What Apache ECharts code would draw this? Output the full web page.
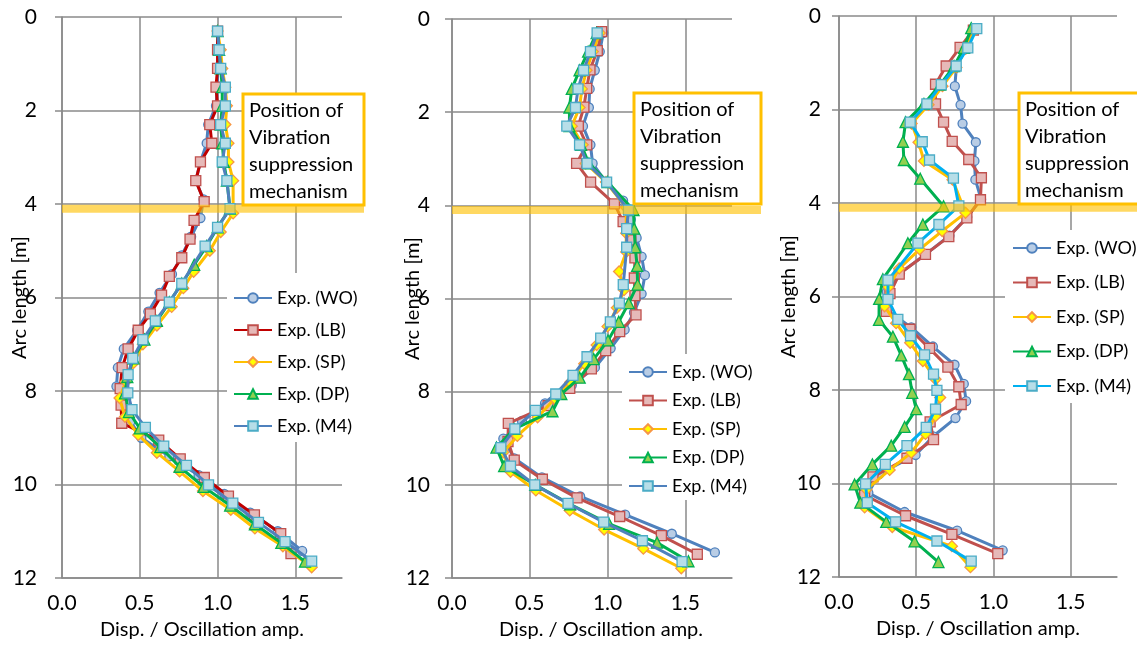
<!DOCTYPE html>
<html>
<head>
<meta charset="utf-8">
<script src="https://cdn.jsdelivr.net/npm/echarts@6/dist/echarts.min.js"></script>
<style>
html,body{margin:0;padding:0;background:#fff;}
#c{width:1137px;height:648px;}
</style>
</head>
<body>
<div id="c"></div>
<script>
// ---------- data ----------
const seriesNames = ['Exp. (WO)','Exp. (LB)','Exp. (SP)','Exp. (DP)','Exp. (M4)'];
const xTicks = [0, 0.5, 1.0, 1.5];
const yTicks = [0, 2, 4, 6, 8, 10, 12];
const BAND_ARC = 4.1;
const noteText = 'Position of\nVibration\nsuppression\nmechanism';

// Panel 1
const p1WO_y = [0.3,0.7,1.1,1.5,1.9,2.3,2.7,3.1,3.5,3.9,4.3,4.7,5.1,5.5,5.9,6.3,6.7,7.1,7.5,7.9,8.25,8.65,9.0,9.4,9.8,10.2,10.6,11.0,11.42];
const p1WO_x = [1.0,1.0,1.0,1.0,0.99,0.94,0.93,0.89,0.86,0.91,0.89,0.83,0.77,0.707,0.627,0.555,0.483,0.397,0.359,0.35,0.39,0.44,0.51,0.69,0.878,1.043,1.21,1.387,1.544];
const p1LB_y = [0.3,0.7,1.1,1.5,1.9,2.3,2.7,3.1,3.5,3.95,4.35,4.75,5.15,5.55,5.95,6.35,6.7,7.1,7.5,7.95,8.3,8.69,9.05,9.45,9.85,10.25,10.65,11.05,11.48];
const p1LB_x = [1.0,1.0,1.0,0.99,1.0,0.95,0.963,0.89,0.86,0.914,0.849,0.823,0.77,0.69,0.64,0.568,0.49,0.425,0.387,0.374,0.38,0.384,0.622,0.76,0.915,1.07,1.237,1.406,1.472];
const p1SP_y = [0.3,0.7,1.1,1.5,1.9,2.3,2.7,3.1,3.5,4.2,4.6,5.0,5.45,5.8,6.2,6.6,7.0,7.4,7.8,8.15,8.55,8.94,9.32,9.72,10.14,10.54,10.94,11.32,11.77];
const p1SP_x = [1.0,1.02,1.03,1.05,1.06,1.05,1.07,1.07,1.10,1.10,1.02,0.95,0.846,0.78,0.705,0.61,0.52,0.46,0.41,0.37,0.405,0.49,0.61,0.756,0.906,1.085,1.24,1.42,1.605];
const p1DP_y = [0.3,0.7,1.1,1.5,1.9,2.3,2.7,3.1,3.5,4.1,4.5,4.9,5.3,5.7,6.1,6.5,6.9,7.3,7.7,8.05,8.45,8.8,9.2,9.62,10.05,10.45,10.85,11.25,11.65];
const p1DP_x = [1.0,1.01,1.02,1.03,1.03,1.02,1.03,1.04,1.06,1.08,1.0,0.93,0.85,0.77,0.69,0.61,0.53,0.46,0.42,0.405,0.43,0.50,0.632,0.756,0.91,1.081,1.24,1.41,1.562];
const p1M4_y = [0.3,0.7,1.1,1.5,1.9,2.3,2.7,3.1,3.5,4.1,4.5,4.9,5.7,6.1,6.5,6.9,7.3,7.65,8.04,8.4,8.78,9.18,9.59,10.01,10.4,10.81,11.22,11.64];
const p1M4_x = [1.0,1.01,1.02,1.05,1.05,1.02,1.05,1.03,1.06,1.08,1.0,0.92,0.77,0.69,0.60,0.52,0.455,0.425,0.423,0.45,0.536,0.654,0.80,0.942,1.098,1.263,1.434,1.605];

// Panel 2
const p2WO_y = [0.3,0.7,1.1,1.5,1.9,2.3,2.7,3.1,3.5,3.9,4.3,4.7,5.1,5.5,5.9,6.3,6.67,7.07,7.48,7.86,8.25,8.63,9.01,9.43,9.84,10.25,10.64,11.05,11.45];
const p2WO_x = [0.972,0.95,0.918,0.885,0.88,0.842,0.89,0.904,0.99,1.10,1.15,1.187,1.219,1.24,1.219,1.17,1.11,1.02,0.919,0.77,0.598,0.45,0.33,0.40,0.578,0.824,1.113,1.413,1.69];
const p2LB_y = [0.27,0.68,1.09,1.49,1.89,2.3,2.7,3.1,3.5,3.97,4.35,4.74,5.13,5.56,5.94,6.35,6.71,7.12,7.51,7.93,8.3,8.68,9.07,9.47,9.88,10.28,10.68,11.09,11.49];
const p2LB_x = [0.962,0.934,0.887,0.866,0.848,0.812,0.866,0.801,0.891,1.044,1.10,1.15,1.176,1.172,1.176,1.183,1.078,0.988,0.896,0.757,0.618,0.362,0.36,0.40,0.581,0.804,1.078,1.346,1.577];
const p2SP_y = [0.3,0.7,1.1,1.5,1.9,2.3,2.7,3.1,3.5,4.05,4.6,5.0,5.42,5.82,6.2,6.6,7.0,7.4,7.8,8.15,8.55,8.95,9.3,9.72,10.12,10.55,10.96,11.37,11.79];
const p2SP_x = [0.95,0.905,0.865,0.835,0.82,0.77,0.84,0.86,0.99,1.12,1.12,1.12,1.074,1.106,1.06,1.0,0.93,0.85,0.76,0.66,0.55,0.42,0.33,0.376,0.539,0.757,0.978,1.23,1.474];
const p2DP_y = [0.3,0.7,1.1,1.5,1.9,2.3,2.7,3.1,3.5,4.1,4.5,4.9,5.3,5.7,6.1,6.5,6.9,7.3,7.7,8.05,8.42,8.8,9.2,9.6,10.0,10.42,10.84,11.24,11.64];
const p2DP_x = [0.93,0.875,0.82,0.77,0.755,0.755,0.83,0.88,1.0,1.167,1.171,1.178,1.19,1.193,1.136,1.072,1.003,0.911,0.821,0.703,0.646,0.40,0.286,0.335,0.535,0.76,1.01,1.318,1.52];
const p2M4_y = [0.3,0.7,1.1,1.5,1.9,2.3,2.7,3.1,3.5,4.1,4.5,4.9,5.7,6.1,6.5,6.85,7.25,7.65,8.05,8.4,8.8,9.2,9.6,10.0,10.4,10.8,11.2,11.65];
const p2M4_x = [0.933,0.89,0.846,0.81,0.794,0.738,0.82,0.868,0.994,1.134,1.123,1.123,1.101,1.076,1.018,0.956,0.868,0.778,0.667,0.536,0.404,0.314,0.376,0.532,0.746,0.975,1.224,1.479];

// Panel 3
const p3WO_y = [0.3,0.7,1.1,1.5,1.9,2.3,2.7,3.1,3.5,3.92,4.3,4.7,5.1,5.5,5.9,6.28,6.66,7.07,7.46,7.87,8.24,8.6,8.99,9.39,9.8,10.2,10.61,11.01,11.43];
const p3WO_x = [0.88,0.82,0.76,0.75,0.787,0.80,0.886,0.877,0.883,0.92,0.83,0.715,0.56,0.395,0.31,0.306,0.468,0.608,0.748,0.808,0.823,0.754,0.61,0.496,0.26,0.19,0.425,0.765,1.06];
const p3LB_y = [0.3,0.67,1.07,1.46,1.88,2.27,2.68,3.07,3.46,3.93,4.32,4.72,5.1,5.52,5.94,6.32,6.7,7.11,7.51,7.93,8.31,8.68,9.06,9.46,9.86,10.25,10.69,11.09,11.5];
const p3LB_x = [0.87,0.784,0.694,0.625,0.625,0.677,0.733,0.84,0.922,0.916,0.828,0.711,0.56,0.39,0.33,0.306,0.46,0.586,0.705,0.776,0.791,0.59,0.612,0.44,0.22,0.166,0.431,0.731,1.028];
const p3SP_y = [0.3,0.7,1.1,1.5,1.9,2.3,2.7,3.1,3.5,4.21,4.6,4.99,5.4,5.8,6.21,6.57,6.99,7.38,7.77,8.16,8.56,8.94,9.34,9.71,10.13,10.51,10.93,11.34,11.79];
const p3SP_x = [0.88,0.82,0.76,0.67,0.58,0.47,0.515,0.55,0.735,0.819,0.668,0.522,0.39,0.32,0.295,0.37,0.461,0.543,0.625,0.655,0.625,0.56,0.468,0.328,0.177,0.166,0.345,0.731,0.851];
const p3DP_y = [0.26,0.68,1.07,1.47,1.88,2.27,2.69,3.08,3.48,4.07,4.46,4.86,5.63,6.05,6.5,6.86,7.26,7.66,8.06,8.41,8.79,9.19,9.59,10.02,10.41,10.82,11.24,11.68];
const p3DP_x = [0.856,0.81,0.745,0.655,0.55,0.431,0.414,0.42,0.526,0.677,0.543,0.446,0.284,0.26,0.259,0.349,0.403,0.453,0.474,0.50,0.425,0.338,0.216,0.101,0.138,0.306,0.489,0.644];
const p3M4_y = [0.27,0.68,1.07,1.47,1.88,2.27,2.69,3.08,3.47,4.06,4.46,4.86,5.65,6.06,6.49,6.84,7.25,7.66,8.01,8.41,8.8,9.19,9.59,10.01,10.41,10.82,11.23,11.66];
const p3M4_x = [0.892,0.834,0.759,0.662,0.569,0.461,0.539,0.586,0.741,0.776,0.647,0.511,0.317,0.317,0.381,0.463,0.554,0.612,0.634,0.625,0.565,0.44,0.30,0.172,0.183,0.366,0.634,0.856];

// ---------- layout & style ----------
const panels = [
  {grid:{left:62, top:17, width:280, height:561}, data:[[p1WO_x,p1WO_y],[p1LB_x,p1LB_y],[p1SP_x,p1SP_y],[p1DP_x,p1DP_y],[p1M4_x,p1M4_y]],
   lbLine:'#C00000', m4Line:'#4F81BD', yLabelMargin:25, yNameGap:32, xNamePad:[0,0,0,0],
   legend:{left:227, top:273, padding:[15,4,6,6], itemGap:12}, box:{dx:181, w:121, top:94}},
  {grid:{left:452, top:19, width:280, height:559}, data:[[p2WO_x,p2WO_y],[p2LB_x,p2LB_y],[p2SP_x,p2SP_y],[p2DP_x,p2DP_y],[p2M4_x,p2M4_y]],
   lbLine:'#C0504D', m4Line:'#4F81BD', yLabelMargin:22, yNameGap:29, xNamePad:[0,0,0,18],
   legend:{left:622, top:354, padding:[8,4,4,6], itemGap:8.5}, box:{dx:182, w:127, top:93}},
  {grid:{left:839, top:16, width:278, height:561}, data:[[p3WO_x,p3WO_y],[p3LB_x,p3LB_y],[p3SP_x,p3SP_y],[p3DP_x,p3DP_y],[p3M4_x,p3M4_y]],
   lbLine:'#C0504D', m4Line:'#00B0F0', yLabelMargin:18, yNameGap:40, xNamePad:[0,0,0,0],
   legend:{left:1005, top:230, padding:[8,4,7,7], itemGap:14.5}, box:{dx:180, w:125, top:93}}
];

const FONT = 'Lato, "Liberation Sans", sans-serif';
const GRID_COLOR = '#8a8a8a';
const TXT = '#000';

function styleFor(k, panel){
  switch(k){
    case 0: return {line:'#4F81BD', fill:'#B9CDE5', border:'#4F81BD', symbol:'circle', size:9};
    case 1: return {line:panel.lbLine, fill:'#E6B9B8', border:'#C0504D', symbol:'rect', size:10};
    case 2: return {line:'#FFC000', fill:'#FFFF00', border:'#F79646', symbol:'diamond', size:11};
    case 3: return {line:'#00B050', fill:'#92D050', border:'#00B050', symbol:'triangle', size:11};
    default: return {line:panel.m4Line, fill:'#B7DEE8', border:'#4BACC6', symbol:'rect', size:10};
  }
}

const grid = [], xAxis = [], yAxis = [], series = [], legend = [];
panels.forEach((p, i) => {
  grid.push(Object.assign({containLabel:false, outerBoundsMode:'none'}, p.grid));
  xAxis.push({
    type:'value', gridIndex:i, min:0, max:1.8, interval:0.5,
    name:'Disp. / Oscillation amp.', nameLocation:'middle', nameGap:42,
    nameTextStyle:{fontFamily:FONT, fontSize:20, color:TXT, padding:p.xNamePad},
    axisLine:{show:true, onZero:false, lineStyle:{color:GRID_COLOR, width:1.5}},
    axisTick:{show:false},
    axisLabel:{fontFamily:FONT, fontSize:21, color:TXT, margin:15, showMaxLabel:false,
      formatter:v => (xTicks.indexOf(v) >= 0 ? v.toFixed(1) : '')},
    splitLine:{show:true, showMaxLine:false, lineStyle:{color:GRID_COLOR, width:1.5}}
  });
  yAxis.push({
    type:'value', gridIndex:i, min:0, max:12, interval:2, inverse:true,
    name:'Arc length [m]', nameLocation:'middle', nameGap:p.yNameGap, nameMoveOverlap:false,
    nameTextStyle:{fontFamily:FONT, fontSize:20, color:TXT},
    axisLine:{show:true, onZero:false, lineStyle:{color:GRID_COLOR, width:1.5}},
    axisTick:{show:true, inside:false, length:7, lineStyle:{color:GRID_COLOR, width:1.5}},
    axisLabel:{fontFamily:FONT, fontSize:21, color:TXT, margin:p.yLabelMargin,
      formatter:v => (yTicks.indexOf(v) >= 0 ? String(v) : '')},
    splitLine:{show:true, lineStyle:{color:GRID_COLOR, width:1.5}}
  });
  const names = [];
  p.data.forEach((d, k) => {
    const st = styleFor(k, p);
    const name = seriesNames[k] + '\u200b'.repeat(i);
    names.push(name);
    series.push({
      type:'line', name:name, xAxisIndex:i, yAxisIndex:i,
      data:d[0].map((x, j) => [x, d[1][j]]),
      symbol:st.symbol, symbolSize:st.size, showAllSymbol:true,
      lineStyle:{color:st.line, width:3},
      itemStyle:{color:st.fill, borderColor:st.border, borderWidth:1.3},
      emphasis:{disabled:true}, animation:false, z:2+k*0.01
    });
  });
  legend.push({
    data:names, orient:'vertical', left:p.legend.left, top:p.legend.top,
    padding:p.legend.padding, itemGap:p.legend.itemGap,
    itemWidth:38, itemHeight:12, backgroundColor:'#fff',
    selectedMode:false,
    formatter:n => n.replace(/\u200b/g,''),
    textStyle:{fontFamily:FONT, fontSize:18, color:TXT, lineHeight:20}
  });
});

const chart = echarts.init(document.getElementById('c'), null, {renderer:'canvas'});
chart.setOption({backgroundColor:'#fff', animation:false, grid, xAxis, yAxis, series, legend});

// annotation: band at the mechanism position + note box
const graphic = [];
panels.forEach((p, i) => {
  const pt = chart.convertToPixel({xAxisIndex:i, yAxisIndex:i}, [0, BAND_ARC]);
  const boxLeft = p.grid.left + p.box.dx;
  const boxRight = boxLeft + p.box.w;
  graphic.push({type:'rect', z:100, silent:true,
    shape:{x:pt[0], y:pt[1]-4, width:boxRight - pt[0], height:8},
    style:{fill:'rgba(255,192,0,0.62)'}});
  graphic.push({type:'rect', z:101, silent:true,
    shape:{x:boxLeft, y:p.box.top, width:p.box.w, height:111},
    style:{fill:'#fff', stroke:'#FFC000', lineWidth:3}});
  graphic.push({type:'text', z:102, silent:true, x:boxLeft+6, y:p.box.top+3,
    style:{text:noteText, font:'20px ' + FONT, lineHeight:27, fill:TXT, verticalAlign:'top'}});
});
chart.setOption({graphic});
</script>
</body>
</html>
